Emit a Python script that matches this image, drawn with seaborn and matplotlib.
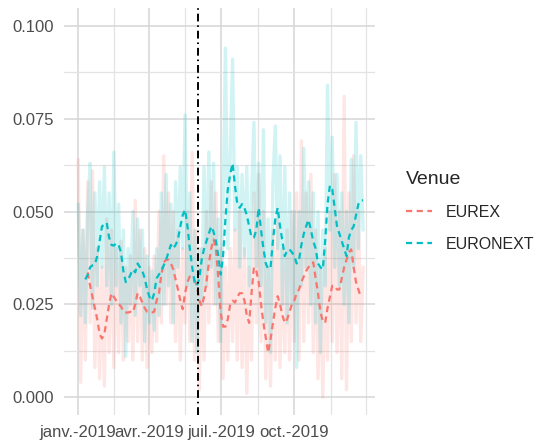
import pandas as pd
import numpy as np
import matplotlib.pyplot as plt
from matplotlib.lines import Line2D
import seaborn as sns

# observation dates: every 3 days through 2019
dates = pd.date_range("2019-01-01", periods=121, freq="3D")

eurex_raw = [
    0.064, 0.004, 0.045, 0.010, 0.058, 0.020, 0.061, 0.008, 0.040, 0.005,
    0.035, 0.003, 0.048, 0.012, 0.045, 0.008, 0.040, 0.012, 0.042, 0.010,
    0.035, 0.015, 0.038, 0.010, 0.053, 0.015, 0.045, 0.010, 0.040, 0.008,
    0.035, 0.012, 0.038, 0.015, 0.050, 0.020, 0.065, 0.025, 0.055, 0.020,
    0.050, 0.015, 0.045, 0.010, 0.040, 0.020, 0.050, 0.015, 0.066, 0.010,
    0.045, 0.002, 0.040, 0.010, 0.050, 0.020, 0.058, 0.025, 0.055, 0.015,
    0.040, 0.005, 0.035, 0.010, 0.040, 0.015, 0.045, 0.010, 0.050, 0.008,
    0.040, 0.001, 0.035, 0.010, 0.055, 0.020, 0.060, 0.015, 0.050, 0.005,
    0.035, 0.003, 0.045, 0.010, 0.048, 0.008, 0.040, 0.012, 0.045, 0.010,
    0.050, 0.015, 0.055, 0.010, 0.069, 0.015, 0.055, 0.020, 0.060, 0.012,
    0.045, 0.005, 0.035, 0.000, 0.040, 0.010, 0.050, 0.015, 0.060, 0.012,
    0.050, 0.005, 0.081, 0.002, 0.055, 0.015, 0.065, 0.020, 0.050, 0.015,
    0.035,
]

euronext_raw = [
    0.052, 0.022, 0.045, 0.020, 0.050, 0.063, 0.024, 0.055, 0.030, 0.058,
    0.035, 0.062, 0.030, 0.055, 0.025, 0.066, 0.030, 0.052, 0.020, 0.045,
    0.011, 0.040, 0.025, 0.050, 0.022, 0.048, 0.030, 0.045, 0.015, 0.038,
    0.020, 0.034, 0.018, 0.040, 0.022, 0.055, 0.025, 0.060, 0.030, 0.052,
    0.020, 0.058, 0.035, 0.062, 0.040, 0.076, 0.030, 0.055, 0.015, 0.045,
    0.012, 0.040, 0.025, 0.062, 0.030, 0.066, 0.035, 0.063, 0.025, 0.048,
    0.015, 0.050, 0.094, 0.040, 0.065, 0.091, 0.045, 0.062, 0.035, 0.060,
    0.038, 0.062, 0.030, 0.055, 0.074, 0.035, 0.063, 0.030, 0.072, 0.020,
    0.048, 0.012, 0.058, 0.073, 0.040, 0.065, 0.025, 0.062, 0.020, 0.055,
    0.025, 0.050, 0.008, 0.050, 0.030, 0.067, 0.035, 0.058, 0.025, 0.055,
    0.020, 0.050, 0.012, 0.045, 0.030, 0.084, 0.045, 0.070, 0.035, 0.060,
    0.030, 0.055, 0.025, 0.050, 0.020, 0.064, 0.035, 0.074, 0.040, 0.065,
    0.045,
]

nan = np.nan
eurex_smooth = [
    nan, nan, nan, nan, 0.0336, 0.030, 0.027, 0.024, 0.021, 0.017,
    0.0158, 0.017, 0.021, 0.025, 0.028, 0.027, 0.026, 0.025, 0.0245, 0.023,
    0.0228, 0.0228, 0.023, 0.0228, 0.025, 0.028, 0.027, 0.0255, 0.024, 0.023,
    0.0228, 0.0228, 0.023, 0.026, 0.028, 0.033, 0.0363, 0.037, 0.037, 0.036,
    0.0345, 0.0317, 0.029, 0.026, 0.0237, 0.028, 0.031, 0.0325, 0.032, 0.0315,
    0.030, 0.026, 0.0245, 0.027, 0.031, 0.036, 0.040, 0.0425, 0.040, 0.032,
    0.0228, 0.019, 0.019, 0.021, 0.025, 0.026, 0.0255, 0.027, 0.028, 0.028,
    0.026, 0.022, 0.020, 0.028, 0.035, 0.034, 0.031, 0.025, 0.020, 0.016,
    0.012, 0.0156, 0.020, 0.024, 0.0272, 0.025, 0.022, 0.020, 0.021, 0.023,
    0.025, 0.026, 0.028, 0.029, 0.031, 0.0325, 0.034, 0.035, 0.036, 0.0363,
    0.032, 0.028, 0.023, 0.0205, 0.020, 0.024, 0.027, 0.030, 0.030, 0.029,
    0.029, 0.032, 0.035, 0.037, 0.039, 0.0398, 0.035, 0.031, 0.029, 0.027,
    nan,
]

euronext_smooth = [
    nan, nan, nan, 0.0317, 0.033, 0.035, 0.0355, 0.0357, 0.038, 0.042,
    0.046, 0.0465, 0.047, 0.043, 0.041, 0.0408, 0.0415, 0.041, 0.039, 0.034,
    0.031, 0.0317, 0.033, 0.0344, 0.0336, 0.036, 0.035, 0.034, 0.032, 0.029,
    0.027, 0.026, 0.028, 0.032, 0.033, 0.034, 0.0355, 0.037, 0.039, 0.041,
    0.040, 0.041, 0.0425, 0.046, 0.049, 0.0505, 0.046, 0.040, 0.035, 0.031,
    0.030, 0.032, 0.037, 0.040, 0.042, 0.044, 0.046, 0.0445, 0.042, 0.038,
    0.033, 0.038, 0.048, 0.056, 0.060, 0.063, 0.057, 0.052, 0.051, 0.052,
    0.051, 0.049, 0.046, 0.043, 0.043, 0.045, 0.051, 0.045, 0.040, 0.036,
    0.0345, 0.035, 0.042, 0.048, 0.051, 0.046, 0.042, 0.038, 0.0395, 0.0398,
    0.039, 0.038, 0.036, 0.037, 0.041, 0.044, 0.046, 0.0478, 0.045, 0.042,
    0.040, 0.036, 0.035, 0.0344, 0.042, 0.052, 0.057, 0.056, 0.051, 0.046,
    0.044, 0.042, 0.040, 0.038, 0.043, 0.045, 0.046, 0.049, 0.052, 0.053,
    0.053,
]

venues = ["EUREX", "EURONEXT"]
colors = {"EUREX": "#F8766D", "EURONEXT": "#00BFC4"}
event_date = pd.Timestamp("2019-06-01")

df = pd.concat([
    pd.DataFrame({"date": dates, "venue": "EUREX", "raw": eurex_raw, "smooth": eurex_smooth}),
    pd.DataFrame({"date": dates, "venue": "EURONEXT", "raw": euronext_raw, "smooth": euronext_smooth}),
])

sns.set_theme(style="whitegrid")
plt.rcParams["font.family"] = ["Liberation Sans", "DejaVu Sans"]

fig = plt.figure(figsize=(5.37, 4.46), dpi=100)
ax = fig.add_axes([64 / 537, 1 - 415 / 446, (375 - 64) / 537, (415 - 8) / 446])

sns.lineplot(data=df, x="date", y="raw", hue="venue", palette=colors, hue_order=venues,
             estimator=None, alpha=0.18, linewidth=2.4, legend=False, ax=ax)
sns.lineplot(data=df.dropna(subset=["smooth"]), x="date", y="smooth", hue="venue",
             palette=colors, hue_order=venues, estimator=None, linewidth=1.6,
             linestyle=(0, (2.8, 2.0)), legend=False, ax=ax)
ax.axvline(event_date, color="black", linewidth=1.4, linestyle=(0, (4, 2, 0.8, 2)))

ax.set_xlim(pd.Timestamp("2018-12-14"), pd.Timestamp("2020-01-11"))
ax.set_ylim(-0.0048, 0.1048)
ax.set_xticks(pd.to_datetime(["2019-01-01", "2019-04-01", "2019-07-01", "2019-10-01"]))
ax.set_xticklabels(["janv.-2019", "avr.-2019", "juil.-2019", "oct.-2019"])
ax.set_xticks(pd.to_datetime(["2019-02-15", "2019-05-16", "2019-08-16", "2019-11-16", "2019-12-30"]), minor=True)
ax.set_yticks([0, 0.025, 0.05, 0.075, 0.1])
ax.set_yticklabels(["0.000", "0.025", "0.050", "0.075", "0.100"])
ax.set_yticks([0.0125, 0.0375, 0.0625, 0.0875], minor=True)

ax.grid(which="major", color="#D6D6D6", linewidth=1.1)
ax.grid(which="minor", color="#E3E3E3", linewidth=0.9)
ax.tick_params(axis="both", which="both", length=0, labelsize=12, labelcolor="#4D4D4D", pad=7)
ax.set_xlabel("")
ax.set_ylabel("")
for s in ax.spines.values():
    s.set_visible(False)

handles = [
    Line2D([], [], color=colors[v], linewidth=1.6, linestyle=(0, (2.8, 2.0))) for v in venues
]
leg = ax.legend(handles, venues, title="Venue", loc="center left",
                bbox_to_anchor=(1.08, 0.5), frameon=False, fontsize=11.5,
                title_fontsize=14, handlelength=1.6, labelspacing=1.05,
                handletextpad=0.85, borderaxespad=0, alignment="left")

fig.savefig("out.png", dpi=100)
